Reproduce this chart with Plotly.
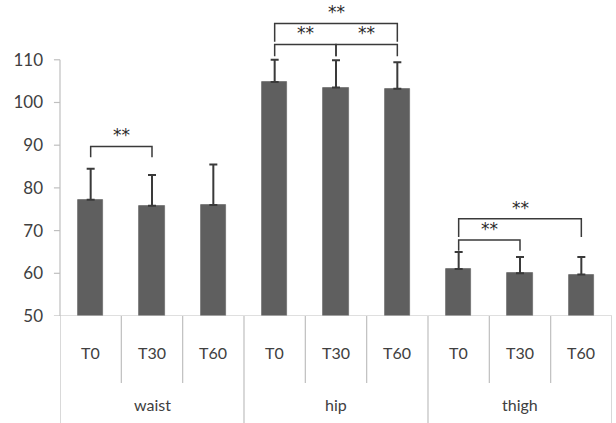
import plotly.graph_objects as go

groups = ["waist", "hip", "thigh"]
times = ["T0", "T30", "T60"]
means = [77.2, 75.8, 76.0, 104.8, 103.5, 103.2, 61.0, 60.0, 59.7]
errors = [7.3, 7.2, 9.5, 5.2, 6.4, 6.2, 4.0, 3.8, 4.1]
y_ticks = [50, 60, 70, 80, 90, 100, 110]
# significance brackets: (left index, right index, bracket level, leg bottom)
brackets = [(0, 1, 89.7, 87.2), (3, 5, 118.5, 114.2), (3, 4, 113.6, 110.8),
            (4, 5, 113.6, 110.8), (6, 8, 72.8, 68.5), (6, 7, 67.8, 65.3)]
sig_label = "**"

n = len(means)
xs = list(range(n))
grey = "#bfbfbf"
txt = "#404040"
fam = "Lato, Open Sans, sans-serif"

fig = go.Figure()
fig.add_trace(go.Bar(
    x=xs, y=[m - y_ticks[0] for m in means], base=y_ticks[0],
    width=0.41, marker=dict(color="#5f5f5f", line=dict(color="#6e6e6e", width=0.8)),
    error_y=dict(type="data", array=errors, arrayminus=[0] * n, symmetric=False,
                 color="#3a3a3a", thickness=2, width=4),
    cliponaxis=False, showlegend=False,
))

shapes = []
# y axis line from 50 to 110
shapes.append(dict(type="line", xref="paper", yref="y", x0=0, x1=0,
                   y0=y_ticks[0], y1=y_ticks[-1], line=dict(color=grey, width=1.2)))
for t in y_ticks:
    shapes.append(dict(type="line", xref="paper", yref="y", x0=-0.011, x1=0,
                       y0=t, y1=t, line=dict(color=grey, width=1.2)))
# baseline
shapes.append(dict(type="line", xref="x", yref="y", x0=-0.5, x1=n - 0.5,
                   y0=y_ticks[0], y1=y_ticks[0], line=dict(color=grey, width=1.2)))
# category table
row1 = -0.212
row2 = -0.345
for b in range(n + 1):
    full = (b % 3 == 0)
    shapes.append(dict(type="line", xref="x", yref="paper", x0=b - 0.5, x1=b - 0.5,
                       y0=0, y1=row2 if full else row1,
                       line=dict(color=grey, width=1.2)))

annotations = []
for i in range(n):
    annotations.append(dict(x=i, y=-0.115, xref="x", yref="paper", text=times[i % 3],
                            showarrow=False, yanchor="middle",
                            font=dict(size=16, color=txt, family=fam)))
for g, name in enumerate(groups):
    annotations.append(dict(x=g * 3 + 1, y=-0.28, xref="x", yref="paper", text=name,
                            showarrow=False, yanchor="middle",
                            font=dict(size=16, color=txt, family=fam)))

for (a, b, lvl, leg) in brackets:
    shapes.append(dict(type="path", xref="x", yref="y",
                       path=f"M {a},{leg} L {a},{lvl} L {b},{lvl} L {b},{leg}",
                       line=dict(color="#3a3a3a", width=1.5)))
    annotations.append(dict(x=(a + b) / 2, y=lvl, xref="x", yref="y", text=sig_label,
                            showarrow=False, yanchor="bottom", yshift=-1,
                            font=dict(size=17, color="#2a2a2a", family="DejaVu Sans")))

fig.update_layout(
    width=616, height=423,
    margin=dict(l=60, r=4, t=0, b=107),
    plot_bgcolor="white", paper_bgcolor="white",
    font=dict(family=fam, size=16, color=txt),
    xaxis=dict(range=[-0.5, n - 0.5], showticklabels=False, showgrid=False,
               zeroline=False, showline=False, ticks=""),
    yaxis=dict(range=[50, 124], tickvals=y_ticks, showgrid=False, zeroline=False,
               showline=False, ticks="", tickfont=dict(size=17, color=txt, family=fam),
               ticklabelstandoff=16),
    shapes=shapes, annotations=annotations, bargap=0,
)
fig.write_html("out.html")
